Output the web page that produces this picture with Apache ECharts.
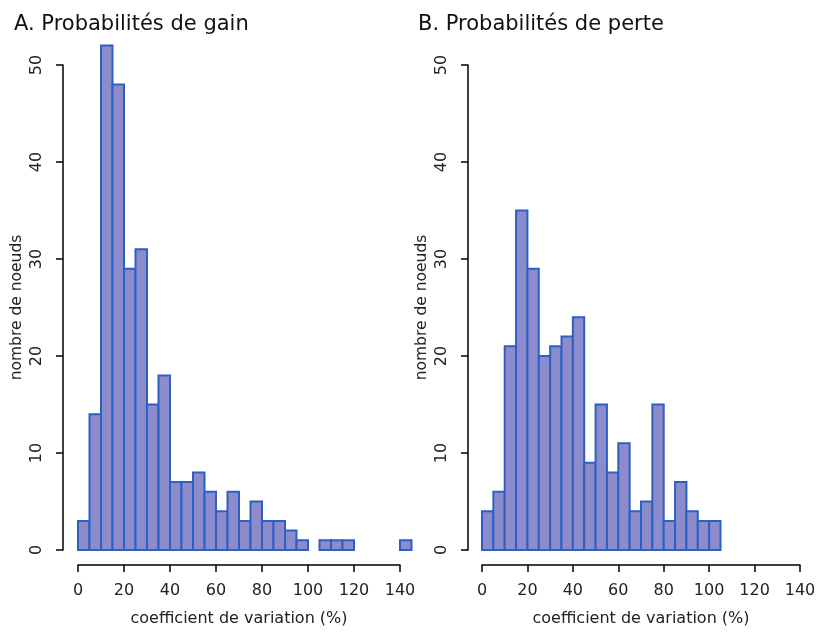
<!DOCTYPE html>
<html><head><meta charset="utf-8">
<script src="https://cdn.jsdelivr.net/npm/echarts@6/dist/echarts.min.js"></script>
<style>html,body{margin:0;padding:0;background:#fff}#c{width:819px;height:632px}</style>
</head><body><div id="c"></div>
<script>
var binWidth = 5;
var binStartsGain = [0,5,10,15,20,25,30,35,40,45,50,55,60,65,70,75,80,85,90,95,100,105,110,115,120,125,130,135,140];
var countsGain    = [3,14,52,48,29,31,15,18,7,7,8,6,4,6,3,5,3,3,2,1,0,1,1,1,0,0,0,0,1];
var binStartsLoss = [0,5,10,15,20,25,30,35,40,45,50,55,60,65,70,75,80,85,90,95,100];
var countsLoss    = [4,6,21,35,29,20,21,22,24,9,15,8,11,4,5,15,3,7,4,3,3];
var xTicks = [0,20,40,60,80,100,120,140];
var yTicks = [0,10,20,30,40,50];
var titleA = 'A. Probabilités de gain';
var titleB = 'B. Probabilités de perte';
var xName = 'coefficient de variation (%)';
var yName = 'nombre de noeuds';

var FONT = 'DejaVu Sans';
var chart = echarts.init(document.getElementById('c'));

function series(idx, starts, counts) {
  var data = [];
  for (var i = 0; i < starts.length; i++) if (counts[i] > 0) data.push([starts[i], starts[i] + binWidth, counts[i]]);
  return {
    type: 'custom', xAxisIndex: idx, yAxisIndex: idx, clip: false,
    data: data,
    encode: {x: [0, 1], y: 2},
    renderItem: function (params, api) {
      var p0 = api.coord([api.value(0), 0]);
      var p1 = api.coord([api.value(1), api.value(2)]);
      return {type: 'rect', shape: {x: p0[0], y: p1[1], width: p1[0] - p0[0], height: p0[1] - p1[1]},
        style: {fill: '#8c8ccc', stroke: '#2d5fc4', lineWidth: 2}};
    }
  };
}

function xAxis(idx) {
  return {type: 'value', gridIndex: idx, min: xTicks[0], max: xTicks[xTicks.length - 1], interval: 20, offset: 15,
    axisLine: {show: true, onZero: false, lineStyle: {color: '#000', width: 1.5}},
    axisTick: {show: true, length: 7, lineStyle: {color: '#000', width: 1.5}},
    axisLabel: {color: '#222', fontFamily: FONT, fontSize: 16, margin: 18},
    splitLine: {show: false},
    name: xName, nameLocation: 'middle', nameGap: 46,
    nameTextStyle: {color: '#222', fontFamily: FONT, fontSize: 16}};
}
function yAxis(idx, off) {
  return {type: 'value', gridIndex: idx, min: yTicks[0], max: yTicks[yTicks.length - 1], interval: 10, offset: off,
    axisLine: {show: true, onZero: false, lineStyle: {color: '#000', width: 1.5}},
    axisTick: {show: true, length: 7, lineStyle: {color: '#000', width: 1.5}},
    axisLabel: {color: '#222', fontFamily: FONT, fontSize: 16, rotate: 90, margin: 18},
    splitLine: {show: false},
    name: yName, nameLocation: 'middle', nameGap: 38,
    nameTextStyle: {color: '#222', fontFamily: FONT, fontSize: 15.5}};
}

chart.setOption({
  animation: false,
  title: [
    {text: titleA, left: 9, top: 9, textStyle: {fontFamily: FONT, fontSize: 21, fontWeight: 'normal', color: '#111'}},
    {text: titleB, left: 413, top: 9, textStyle: {fontFamily: FONT, fontSize: 21, fontWeight: 'normal', color: '#111'}}
  ],
  grid: [
    {left: 78, width: 322, top: 65, height: 487},
    {left: 482, width: 318, top: 65, height: 487}
  ],
  xAxis: [xAxis(0), xAxis(1)],
  yAxis: [yAxis(0, 15), yAxis(1, 14)],
  series: [series(0, binStartsGain, countsGain), series(1, binStartsLoss, countsLoss)]
});
</script></body></html>
